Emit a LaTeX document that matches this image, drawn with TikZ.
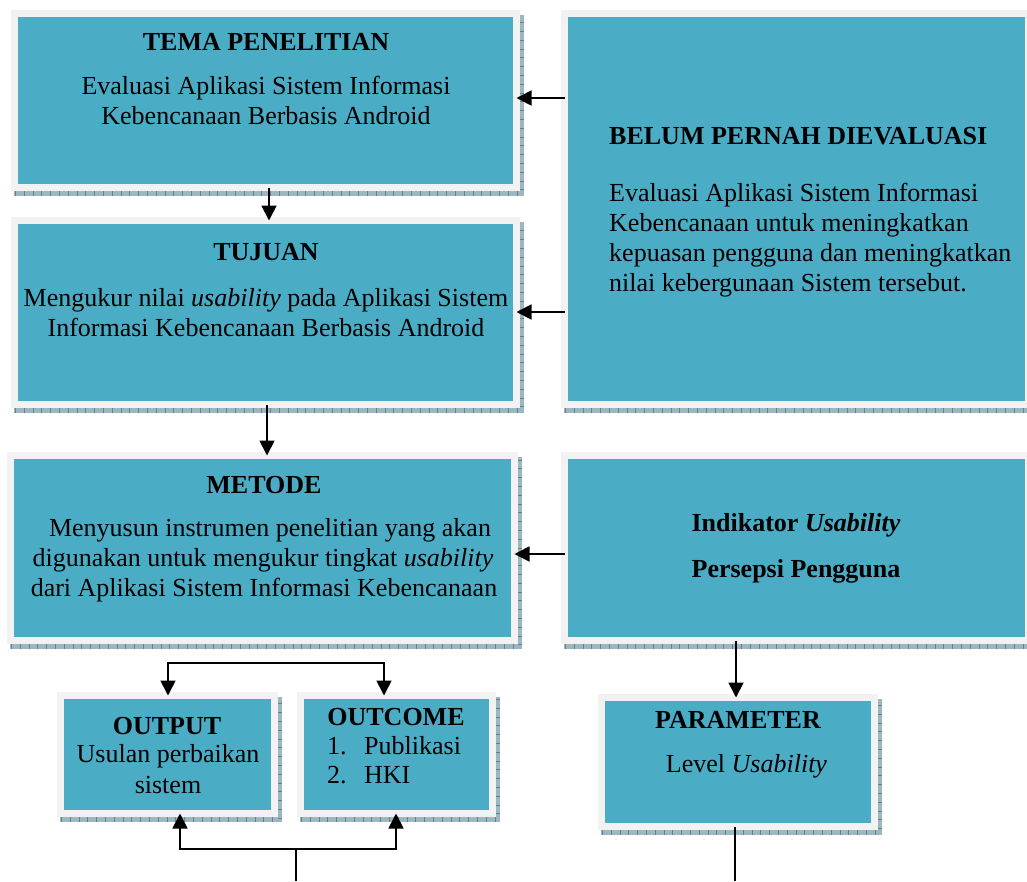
\documentclass[tikz,border=0pt]{standalone}
\usepackage{fontspec}
\setmainfont{Liberation Serif}
\usetikzlibrary{arrows.meta}
\definecolor{tealc}{HTML}{4BACC6}
\definecolor{framec}{HTML}{F2F2F2}
\definecolor{shadc}{HTML}{9DB7C1}
\definecolor{tickc}{HTML}{5E8494}
\tikzset{
  boxst/.style={draw=framec, line width=7pt, fill=tealc, inner sep=0pt, outer sep=0pt, line join=miter},
  arr/.style={-{Triangle[length=15pt,width=15pt]}, line width=1.8pt, line join=miter},
  ln/.style={line width=1.8pt},
  txt/.style={font=\fontsize{26}{30}\selectfont, inner sep=0pt, anchor=base},
  txtb/.style={txt, font=\fontsize{26}{30}\selectfont\bfseries},
  txtl/.style={txt, anchor=base west},
  txtlb/.style={txtb, anchor=base west},
}
\newcommand\mkbox[5]{%
  \fill[shadc] ({#2+3},{#3+5}) rectangle ({#4+4},{#5+5});
  \draw[tickc, line width=4.5pt, dash pattern=on 0.8pt off 8pt] ({#2+4},{#5+2.5}) -- ({#4+2},{#5+2.5}) -- ({#4+2},{#3+6});
  \node[boxst, minimum width={#4-#2-7}, minimum height={#5-#3-7}] (#1) at ({(#2+#4)/2},{(#3+#5)/2}) {};
}
\begin{document}
\begin{tikzpicture}[x=1pt,y=-1pt]
\useasboundingbox (0,0) rectangle (1027,881);
\clip (0,0) rectangle (1027,881);
\mkbox{tema}{11}{10}{520}{191}
\mkbox{tujuan}{11}{217}{520}{408}
\mkbox{belum}{561}{10}{1032}{408}
\mkbox{metode}{7}{452}{518}{644}
\mkbox{indikator}{561}{452}{1032}{644}
\mkbox{output}{57}{692}{278}{817}
\mkbox{outcome}{297}{692}{496}{817}
\mkbox{parameter}{598}{694}{878}{830}

% texts
\node[txtb] (temaA) at (266,50) {TEMA PENELITIAN};
\node[txt] (temaB) at (266,94) {Evaluasi Aplikasi Sistem Informasi};
\node[txt] (temaC) at (266,124) {Kebencanaan Berbasis Android};

\node[txtb] (tujA) at (266,260) {TUJUAN};
\node[txt] (tujB) at (266,306) {Mengukur nilai \textit{usability} pada Aplikasi Sistem};
\node[txt] (tujC) at (266,336) {Informasi Kebencanaan Berbasis Android};

\node[txtlb] (belA) at (609,144) {BELUM PERNAH DIEVALUASI};
\node[txtl] (belB) at (609,201) {Evaluasi Aplikasi Sistem Informasi};
\node[txtl] (belC) at (609,231) {Kebencanaan untuk meningkatkan};
\node[txtl] (belD) at (609,261) {kepuasan pengguna dan meningkatkan};
\node[txtl] (belE) at (609,291) {nilai kebergunaan Sistem tersebut.};

\node[txtb] (metA) at (264,493) {METODE};
\node[txt] (metB) at (270,536) {Menyusun instrumen penelitian yang akan};
\node[txt] (metC) at (263,566) {digunakan untuk mengukur tingkat \textit{usability}};
\node[txt] (metD) at (264,596) {dari Aplikasi Sistem Informasi Kebencanaan};

\node[txtb] (indA) at (796,531) {Indikator \textit{Usability}};
\node[txtb] (indB) at (796,577) {Persepsi Pengguna};

\node[txtb] (outA) at (167,734) {OUTPUT};
\node[txt] (outB) at (168,762) {Usulan perbaikan};
\node[txt] (outC) at (168,793) {sistem};

\node[txtb] (ocA) at (396,725) {OUTCOME};
\node[txtl] (ocN1) at (327,754) {1.};
\node[txtl] (ocB) at (364,754) {Publikasi};
\node[txtl] (ocN2) at (327,783) {2.};
\node[txtl] (ocC) at (364,783) {HKI};

\node[txtb] (parA) at (738,728) {PARAMETER};
\node[txt] (parB) at (746.5,772) {Level \textit{Usability}};

% connectors
\draw[arr] (belum.west |- 0,98) -- (tema.east |- 0,98);
\draw[arr] (belum.west |- 0,312) -- (tujuan.east |- 0,312);
\draw[arr] (tema.south -| 269,0) -- (tujuan.north -| 269,0);
\draw[arr] (tujuan.south -| 267,0) -- (metode.north -| 267,0);
\draw[arr] (indikator.west |- 0,554) -- (metode.east |- 0,554);
\draw[arr] (indikator.south -| 736,0) -- (parameter.north -| 736,0);

\coordinate (s1) at (168,663);
\coordinate (s2) at (384,663);
\draw[arr] (s2) -- (s1) -- (output.north -| s1);
\draw[arr] (s1) -- (s2) -- (outcome.north -| s2);

\coordinate (bm) at (296,849);
\coordinate (bend) at (296,881);
\coordinate (b1) at (180,849);
\coordinate (b2) at (396,849);
\draw[ln] (bend) -- (bm);
\draw[arr] (bm) -- (b1) -- (output.south -| b1);
\draw[arr] (bm) -- (b2) -- (outcome.south -| b2);

\coordinate (pend) at (735,881);
\draw[ln] (parameter.south -| pend) -- (pend);
\end{tikzpicture}
\end{document}
